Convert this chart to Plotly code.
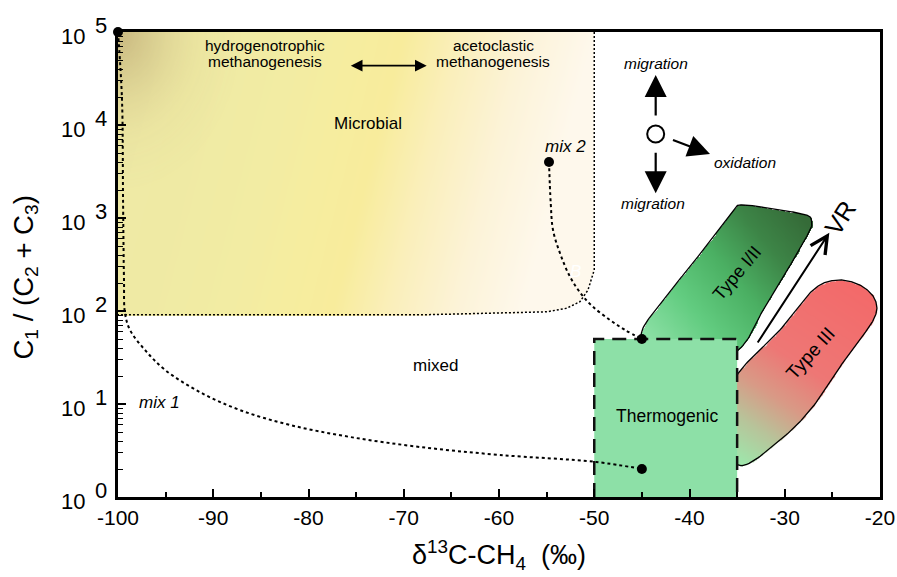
import numpy as np
import plotly.graph_objects as go

# ---------------- data ----------------
x_ticks = [-100, -90, -80, -70, -60, -50, -40, -30, -20]
x_ticktext = ["-100", "-90", "-80", "-70", "-60", "-50", "-40", "-30", "-20"]
x_minor = [-95, -85, -75, -65, -55, -45, -35, -25]
y_ticks = [1, 10, 100, 1000, 10000, 100000]
y_exponents = ["0", "1", "2", "3", "4", "5"]
y_minor = [m * 10 ** d for d in range(5) for m in range(2, 10)]

# Microbial field (d13C, C1/(C2+C3))
microbial_x = [-100, -50, -50, -50.66, -51.5, -52.9, -55.0, -68.0, -100]
microbial_y = [1e5, 1e5, 276, 168, 126, 107, 98, 91, 91]

# Thermogenic box
thermo_x = [-50, -50, -35, -35]
thermo_y = [1, 50, 50, 1]

# Kerogen Type I/II field
type12_x = [-45.0, -42.75, -39.95, -37.5, -35.4, -34.35, -30.5, -27.7, -27.17, -27.35, -29.1, -31.9, -34.88, -40.0]
type12_y = [50, 131, 299, 630, 1219, 1380, 1219, 1077, 913, 743, 353, 121, 38, 25]

# Kerogen Type III field
type3_x = [-34.88, -30.5, -27.03, -24.55, -22.1, -20.5, -20.7, -23.5, -27.03, -30.5, -34.88, -37.0]
type3_y = [21.4, 62.5, 168, 215, 190, 131, 80, 32, 9.4, 4.1, 2.2, 7.0]

# mixing lines
mix1_x = [-100, -99.58, -99.47, -99.37, -99.27, -98.74, -97.17, -95.07, -91.39, -87.19, -81.94, -75.64, -68.29, -59.9, -49.8, -45.0]
mix1_y = [1e5, 18600, 1560, 215, 95.3, 62.5, 38.1, 23.3, 13.4, 8.6, 5.95, 4.42, 3.45, 2.83, 2.38, 2.0]
mix2_x = [-54.75, -54.57, -54.33, -53.6, -52.55, -51.3, -50.13, -48.35, -46.77, -45.0]
mix2_y = [4000, 1449, 743, 420, 234, 149, 111, 80, 62.5, 50]

end_x = [-100, -54.75, -45, -45]
end_y = [1e5, 4000, 50, 2]

SX, SY = 9.525, 93.0  # px per permil / per decade (for smoothing & gradients)


def smooth_closed(xs, ys, n=24):
    P = np.column_stack([np.asarray(xs, float) * SX, np.log10(ys) * SY])
    m = len(P)
    t = np.linspace(0, 1, n, endpoint=False)[:, None]
    out = []
    for i in range(m):
        p0, p1, p2, p3 = P[(i - 1) % m], P[i], P[(i + 1) % m], P[(i + 2) % m]
        seg = 0.5 * ((2 * p1) + (-p0 + p2) * t + (2 * p0 - 5 * p1 + 4 * p2 - p3) * t ** 2
                     + (-p0 + 3 * p1 - 3 * p2 + p3) * t ** 3)
        out.append(seg)
    out = np.vstack(out + [P[:1]])
    return out[:, 0] / SX, 10 ** (out[:, 1] / SY)


def inside(px, py, X, Y):
    res = np.zeros(X.shape, bool)
    n = len(px)
    j = n - 1
    for i in range(n):
        xi, yi, xj, yj = px[i], py[i], px[j], py[j]
        if yi != yj:
            cond = ((yi > Y) != (yj > Y)) & (X < (xj - xi) * (Y - yi) / (yj - yi) + xi)
            res ^= cond
        j = i
    return res


def gradient_heatmap(px, pyl, xlim, lylim, nx, ny, tfunc, colorscale):
    xg = np.linspace(xlim[0], xlim[1], nx)
    lyg = np.linspace(lylim[0], lylim[1], ny)
    X, LY = np.meshgrid(xg, lyg)
    m = inside(np.asarray(px), np.asarray(pyl), X, LY)
    Z = np.where(m, np.clip(tfunc(X, LY), 0, 1), np.nan).astype(np.float32)
    return go.Heatmap(x=xg, y=lyg, z=Z, colorscale=colorscale, zmin=0, zmax=1,
                      showscale=False, zsmooth="best", hoverinfo="skip",
                      xaxis="x", yaxis="y")


def proj(A, B):
    ax_, ay_ = A[0] * SX, A[1] * SY
    bx_, by_ = B[0] * SX, B[1] * SY
    d2 = (bx_ - ax_) ** 2 + (by_ - ay_) ** 2
    return lambda X, LY: ((X * SX - ax_) * (bx_ - ax_) + (LY * SY - ay_) * (by_ - ay_)) / d2


fig = go.Figure()

# --- microbial gradient (horizontal yellow -> cream) + tan corner
mpx = np.where(np.array(microbial_x) <= -100, -101.0, microbial_x)
mpy = np.where(np.log10(microbial_y) >= 5, 5.1, np.log10(microbial_y))
micro_cs = [[0.0, "#eee9a6"], [0.2, "#efeaa4"], [0.38, "#f2eca3"], [0.5, "#f6ed9f"],
            [0.6, "#f8ec9c"], [0.72, "#faefbb"], [0.86, "#fcf3d8"], [1.0, "#fef8ec"]]
fig.add_trace(gradient_heatmap(mpx, mpy, (-100.5, -49.5), (1.9, 5.05), 220, 260,
                               lambda X, LY: (X + 100) / 50 + 0.15 * (5 - LY) / 3, micro_cs))
tan_cs = [[0.0, "rgba(198,180,124,0.95)"], [0.3, "rgba(206,192,134,0.6)"],
          [0.65, "rgba(220,208,145,0.2)"], [1.0, "rgba(230,220,160,0)"]]
fig.add_trace(gradient_heatmap(mpx, mpy, (-100.5, -49.5), (1.9, 5.05), 220, 260,
                               lambda X, LY: np.sqrt(((X + 100) * SX / 125) ** 2 + ((5 - LY) * SY / 160) ** 2),
                               tan_cs))

# --- Type I/II gradient
t12x, t12y = smooth_closed(type12_x, type12_y)
cs12 = [[0.0, "#92e3ab"], [0.3, "#62cc80"], [0.55, "#4bb063"], [0.78, "#3d8547"], [1.0, "#356b38"]]
fig.add_trace(gradient_heatmap(t12x, np.log10(t12y), (-46, -26.5), (1.3, 3.2), 200, 190,
                               proj((-45, np.log10(45)), (-28.5, np.log10(1150))), cs12))

# --- Type III gradient
t3x, t3y = smooth_closed(type3_x, type3_y)
cs3 = [[0.0, "#9fe6ab"], [0.18, "#b8c49a"], [0.35, "#d99a86"], [0.55, "#ee7775"], [1.0, "#f36a6a"]]
fig.add_trace(gradient_heatmap(t3x, np.log10(t3y), (-38, -20), (0.25, 2.4), 190, 220,
                               proj((-35, np.log10(2.5)), (-23, np.log10(190))), cs3))

line_kw = dict(xaxis="x", yaxis="y2", hoverinfo="skip", showlegend=False)

# outlines of kerogen fields
fig.add_trace(go.Scatter(x=t12x, y=t12y, mode="lines", line=dict(color="black", width=1.3), **line_kw))
fig.add_trace(go.Scatter(x=t3x, y=t3y, mode="lines", line=dict(color="black", width=1.3), **line_kw))

# microbial dotted boundary
fig.add_trace(go.Scatter(x=microbial_x[1:], y=microbial_y[1:], mode="lines",
                         line=dict(color="black", width=1.5, dash="2px,2px"), **line_kw))

# thermogenic box
fig.add_trace(go.Scatter(x=thermo_x, y=thermo_y, mode="lines", fill="toself", fillcolor="#8de0a7",
                         line=dict(width=0), **line_kw))
fig.add_trace(go.Scatter(x=thermo_x, y=thermo_y, mode="lines",
                         line=dict(color="#111111", width=2.5, dash="14px,8px"), **line_kw))

# mixing curves
fig.add_trace(go.Scatter(x=mix1_x, y=mix1_y, mode="lines", line_shape="spline",
                         line=dict(color="black", width=2, dash="3px,3px"), **line_kw))
fig.add_trace(go.Scatter(x=mix2_x, y=mix2_y, mode="lines", line_shape="spline",
                         line=dict(color="black", width=2, dash="3px,3px"), **line_kw))

# end-member dots
fig.add_trace(go.Scatter(x=end_x, y=end_y, mode="markers", cliponaxis=False,
                         marker=dict(color="black", size=10), **line_kw))

# process symbol circle
fig.add_trace(go.Scatter(x=[-43.55], y=[10 ** 3.903], mode="markers", cliponaxis=False,
                         marker=dict(color="white", size=17, line=dict(color="black", width=2)), **line_kw))

L = np.log10
ann = []


def txt(x, y, s, size, italic=False, color="black", angle=0):
    t = "<i>" + s + "</i>" if italic else s
    ann.append(dict(x=x, y=L(y), xref="x", yref="y2", text=t, showarrow=False,
                    font=dict(size=size, color=color), textangle=angle))


def arrow(x, y, ax, ay, head=2, size=2.0, width=2.0, both=False):
    d = dict(x=x, y=L(y), xref="x", yref="y2", ax=ax, ay=ay, text="", showarrow=True,
             arrowhead=head, arrowsize=size, arrowwidth=width, arrowcolor="black")
    if both:
        d.update(arrowside="end+start", startarrowhead=head, startarrowsize=size)
    ann.append(d)


txt(-84.57, 10 ** 4.86, "hydrogenotrophic", 15.5)
txt(-84.57, 10 ** 4.68, "methanogenesis", 15.5)
txt(-60.63, 10 ** 4.86, "acetoclastic", 15.5)
txt(-60.63, 10 ** 4.68, "methanogenesis", 15.5)
arrow(-67.59, 10 ** 4.638, -77.4, 0, head=2, size=1.3, width=1.8, both=True)
txt(-73.75, 10 ** 4.011, "Microbial", 17)
txt(-66.7, 10 ** 1.419, "mixed", 17)
txt(-95.6, 10 ** 1.011, "mix 1", 17, italic=True)
txt(-52.97, 10 ** 3.774, "mix 2", 17, italic=True)
txt(-42.36, 10 ** 0.871, "Thermogenic", 17.5)
txt(-35.0, 10 ** 2.409, "Type I/II", 18, angle=-50)
txt(-27.35, 10 ** 1.548, "Type III", 19, angle=-48)
txt(-24.2, 10 ** 3.0, "VR", 25, angle=-57)
txt(-51.92, 10 ** 2.43, "B", 17, italic=True, color="white")
txt(-43.52, 10 ** 4.656, "migration", 15.5, italic=True)
txt(-43.83, 10 ** 3.161, "migration", 15.5, italic=True)
txt(-34.17, 10 ** 3.599, "oxidation", 15.5, italic=True)
arrow(-43.55, 10 ** 4.538, 0, 42, head=2, size=2.0, width=2.2)
arrow(-43.55, 10 ** 3.266, 0, -42, head=2, size=2.0, width=2.2)
arrow(-37.85, 10 ** 3.688, -38.5, -14.5, head=2, size=2.0, width=2.2)
arrow(-25.32, 10 ** 2.842, -72.6, 111.3, head=5, size=1.7, width=2.0)

# y tick labels "10" with full-size raised exponent
for v, e in zip(y_ticks, y_exponents):
    ann.append(dict(x=-31 / 762, y=L(v), xref="paper", yref="y2", text="10", showarrow=False,
                    xanchor="right", yanchor="middle", yshift=-4, font=dict(size=22)))
    ann.append(dict(x=-25 / 762, y=L(v), xref="paper", yref="y2", text=e, showarrow=False,
                    xanchor="left", yanchor="middle", yshift=7, font=dict(size=22)))

# y axis title
ann.append(dict(x=(25 - 118) / 762, y=(497 - 277.5) / 465, xref="paper", yref="paper",
                text="C<sub>1</sub> / (C<sub>2</sub> + C<sub>3</sub>)", showarrow=False,
                textangle=-90, xanchor="center", yanchor="middle", font=dict(size=27.5)))

fig.update_layout(
    width=897, height=577,
    margin=dict(l=118, r=17, t=32, b=80, autoexpand=False),
    plot_bgcolor="white", paper_bgcolor="white", showlegend=False,
    font=dict(family="Liberation Sans, Arial, sans-serif", color="black"),
    annotations=ann,
    xaxis=dict(range=[-100, -20], tickvals=x_ticks, ticktext=x_ticktext, ticks="inside",
               ticklen=8, tickwidth=2, tickcolor="black", showline=True, linewidth=2.5,
               linecolor="black", mirror=True, showgrid=False, zeroline=False,
               automargin=False, tickfont=dict(size=21),
               minor=dict(tickvals=x_minor, ticks="inside", ticklen=5, tickwidth=1.5,
                          tickcolor="black", showgrid=False),
               title=dict(text="δ<sup>13</sup>C-CH<sub>4</sub>  (‰)", font=dict(size=27), standoff=18)),
    yaxis=dict(range=[0, 5], visible=False, automargin=False),
    yaxis2=dict(type="log", range=[0, 5], overlaying="y", side="left", tickvals=y_ticks,
                showticklabels=False, ticks="inside", ticklen=8, tickwidth=2, tickcolor="black",
                showline=True, linewidth=2.5, linecolor="black", mirror=True, showgrid=False,
                zeroline=False, automargin=False,
                minor=dict(tickvals=y_minor, ticks="inside", ticklen=5, tickwidth=1.3,
                           tickcolor="black", showgrid=False)),
)

fig.write_html("out.html")
